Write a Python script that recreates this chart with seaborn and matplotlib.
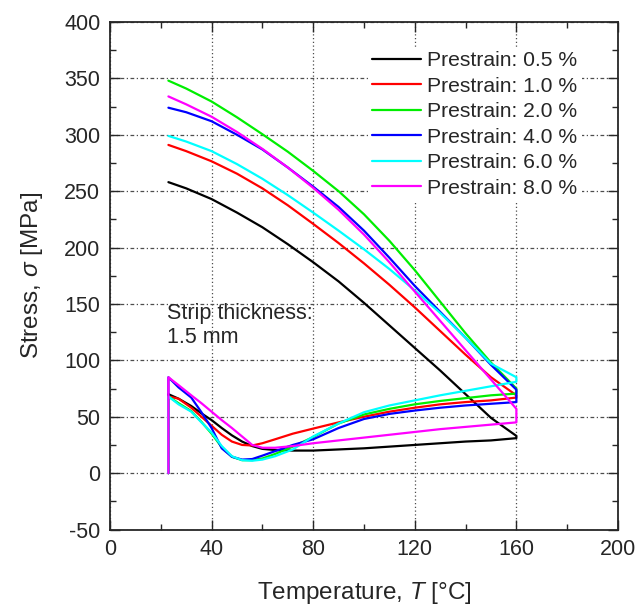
import numpy as np
import pandas as pd
import matplotlib
matplotlib.use("Agg")
import matplotlib.pyplot as plt
import seaborn as sns
from matplotlib.ticker import MultipleLocator

T_LOW = [23, 27, 32, 36, 40, 44, 48, 52, 56, 60, 65, 72, 80, 90, 100, 110, 120, 130, 140, 150, 160]
T_HIGH = [23, 30, 40, 50, 60, 70, 80, 90, 100, 110, 120, 130, 140, 150, 160]

LABELS = ["Prestrain: 0.5 %", "Prestrain: 1.0 %", "Prestrain: 2.0 %",
          "Prestrain: 4.0 %", "Prestrain: 6.0 %", "Prestrain: 8.0 %"]
COLORS = ["#000000", "#ff0000", "#00ee00", "#0000ff", "#00ffff", "#ff00ff"]

# lower branch (MPa) on T_LOW
low_05 = [70, 66, 59.5, 53, 47, 40, 33.5, 28, 24, 21.5, 20.5, 20, 20, 21, 22, 23.5, 25, 26.5, 28, 29, 31]
low_10 = [68, 66, 58, 50, 42, 34, 28, 25, 24.5, 26.5, 30, 35, 39.5, 45, 50, 54.5, 58, 61, 63, 64.5, 67]
low_20 = [68, 62, 55, 45.5, 35, 23, 14.5, 11.5, 11.5, 13, 17, 23.5, 32, 44, 52, 57, 61, 64, 66.5, 69, 70.5]
low_40 = [85, 76, 67, 54, 40, 22, 14.5, 12, 12.5, 15.5, 19.5, 25, 30, 40, 48, 52.5, 55.5, 58, 60, 61.5, 63]
low_60 = [68, 61, 54.5, 45, 36, 24, 15, 11.5, 11, 12, 15, 21, 32.5, 44, 54, 60, 64.5, 69, 73, 77, 81]
low_80 = [85, 78, 69, 62, 54.5, 47, 40, 32.5, 25, 22.5, 22.5, 24, 26.5, 29, 31.5, 34, 36.5, 39, 41, 43, 45]

# upper branch (MPa) on T_HIGH
high_05 = [258, 252.5, 243, 231, 218, 203, 187, 170, 151, 131, 111, 91, 70, 49, 33]
high_10 = [291, 285.5, 276.5, 265.5, 252.5, 237.5, 221, 204, 186, 167, 147, 126, 105, 85, 69]
high_20 = [348, 341, 329.5, 315.5, 300.5, 285, 268, 250, 229.5, 206, 180, 152, 124, 98, 75]
high_40 = [324, 320, 312, 300, 287, 271, 254, 236, 215, 191, 166, 143, 120, 96, 74]
high_60 = [299, 294, 285.5, 274, 261, 246.5, 231, 215, 198.5, 181, 162, 142, 120, 97, 85]
high_80 = [334, 327, 316, 302.5, 287.5, 271, 253, 233.5, 211.5, 187, 161, 135, 109, 83, 57]

LOWS = [low_05, low_10, low_20, low_40, low_60, low_80]
HIGHS = [high_05, high_10, high_20, high_40, high_60, high_80]

# one continuous path per test: load at room temp, lower branch, upper branch back
rows = []
for lab, low, high in zip(LABELS, LOWS, HIGHS):
    T = [T_LOW[0]] + T_LOW + T_HIGH[::-1]
    s = [0] + low + high[::-1]
    for i, (t, v) in enumerate(zip(T, s)):
        rows.append({"series": lab, "step": i, "T": t, "stress": v})
df = pd.DataFrame(rows)

sns.set_style("ticks")
plt.rcParams["font.family"] = ["Liberation Sans", "DejaVu Sans"]
plt.rcParams["mathtext.fontset"] = "custom"
plt.rcParams["mathtext.it"] = "Liberation Sans:italic"
plt.rcParams["mathtext.rm"] = "Liberation Sans"
plt.rcParams["axes.unicode_minus"] = False

fig = plt.figure(figsize=(6.38, 6.06), dpi=100)
ax = fig.add_axes([0.1724, 0.1262, 0.7962, 0.8375])

sns.lineplot(data=df, x="T", y="stress", hue="series", hue_order=LABELS,
             palette=COLORS, sort=False, estimator=None, units="series",
             lw=1.6, ax=ax)

ax.set_xlim(0, 200)
ax.set_ylim(-50, 400)
ax.xaxis.set_major_locator(MultipleLocator(40))
ax.xaxis.set_minor_locator(MultipleLocator(20))
ax.yaxis.set_major_locator(MultipleLocator(50))
ax.yaxis.set_minor_locator(MultipleLocator(25))
ax.tick_params(which="both", direction="in", top=True, right=True, width=1.0)
ax.tick_params(which="major", length=7, labelsize=15.5, pad=7)
ax.tick_params(which="minor", length=4)
for sp in ax.spines.values():
    sp.set_linewidth(1.3)

ax.grid(True, which="major", axis="x", color="0.3", lw=0.9, ls=(0, (1, 2)))
ax.grid(True, which="major", axis="y", color="0.3", lw=0.9, ls=(0, (3, 2, 1, 2)))
ax.set_axisbelow(True)

ax.set_xlabel(r"Temperature, $T$ [°C]", fontsize=17.5, labelpad=14)
ax.set_ylabel(r"Stress, $\sigma$ [MPa]", fontsize=17.5, labelpad=14)

ax.text(22.5, 131, "Strip thickness:\n1.5 mm", fontsize=15.5, va="center",
        ha="left", linespacing=1.2)

leg = ax.legend(loc="upper left", bbox_to_anchor=(0.508, 0.951), frameon=True,
                fontsize=15.2, handlelength=2.3, handletextpad=0.3, labelspacing=0.31,
                borderpad=0.2, borderaxespad=0, fancybox=False)
leg.get_frame().set_facecolor("white")
leg.get_frame().set_edgecolor("none")
leg.get_frame().set_alpha(1.0)

fig.savefig("out.png", dpi=100)
